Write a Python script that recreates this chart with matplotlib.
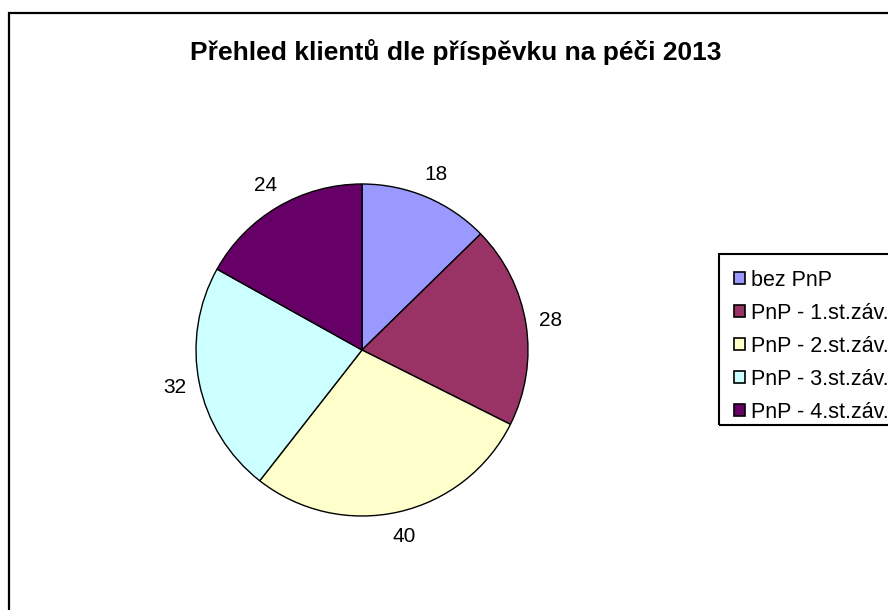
import matplotlib
matplotlib.use("Agg")
import matplotlib.pyplot as plt
from matplotlib.patches import Rectangle

plt.rcParams['font.family'] = ['Liberation Sans', 'DejaVu Sans']

# data
categories = ["bez PnP", "PnP - 1.st.záv.", "PnP - 2.st.záv.", "PnP - 3.st.záv.", "PnP - 4.st.záv."]
values = [18, 28, 40, 32, 24]
colours = ["#9999FF", "#993366", "#FFFFCC", "#CCFFFF", "#660066"]
title = "Přehled klientů dle příspěvku na péči 2013"

W, H = 888, 610
fig = plt.figure(figsize=(W / 100, H / 100), dpi=100)

# outer chart border (runs off the right and bottom edge)
fig.patches.append(Rectangle((8.5 / W, -0.05), 1.2, 1.05 - 12.5 / H,
                             transform=fig.transFigure, fill=False,
                             edgecolor="black", linewidth=1.6))

cx, cy, r = 362, 350, 166
ax = fig.add_axes([(cx - r) / W, (H - cy - r) / H, 2 * r / W, 2 * r / H])

wedges, texts, autotexts = ax.pie(
    values, colors=colours, startangle=90, counterclock=False,
    autopct=lambda p: "%d" % round(p * sum(values) / 100.0),
    pctdistance=1.15,
    wedgeprops=dict(edgecolor="black", linewidth=1.0),
    textprops=dict(fontsize=15, color="black"))
ax.set_aspect("equal")
ax.set_xlim(-1, 1)
ax.set_ylim(-1, 1)
ax.axis("off")
for t in autotexts:
    t.set_clip_on(False)

fig.text(190 / W, 1 - 52 / H, title, ha="left", va="center",
         fontsize=19, fontweight="bold")

# legend box drawn by hand, it runs off the right edge
fig.patches.append(Rectangle((718.5 / W, 1 - 425 / H), 0.3, 171 / H,
                             transform=fig.transFigure, fill=False,
                             edgecolor="black", linewidth=1.5))
leg = fig.legend(wedges, categories, loc="upper left",
                 bbox_to_anchor=(725.5 / W, 1 - 261 / H),
                 fontsize=15.5, frameon=False,
                 handlelength=0.5, handleheight=0.5,
                 handletextpad=0.3, labelspacing=0.56, borderpad=0.4,
                 borderaxespad=0)
for h in leg.legend_handles:
    h.set_edgecolor("black")
    h.set_linewidth(1.2)

fig.savefig("out.png", dpi=100)
